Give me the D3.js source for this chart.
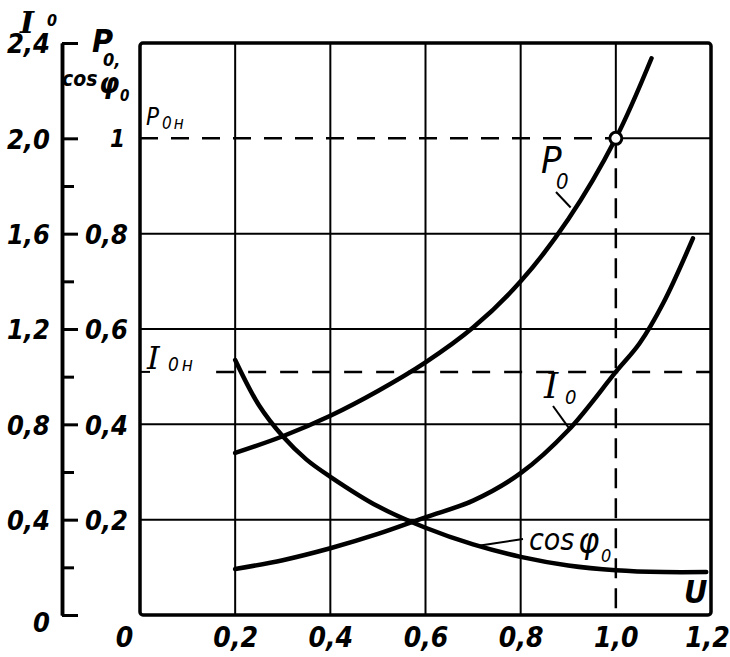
<!DOCTYPE html>
<html>
<head>
<meta charset="utf-8">
<script src="https://cdn.jsdelivr.net/npm/d3@7"></script>
<style>
body { margin: 0; background: #fff; }
svg text { font-family: "DejaVu Sans Condensed", "DejaVu Sans", sans-serif; font-style: italic; fill: #000; }
svg text.serif { font-family: "DejaVu Serif", "Liberation Serif", serif; }
</style>
</head>
<body>
<div id="chart"></div>
<script>
// axis ticks
const uTicks = [0, 0.2, 0.4, 0.6, 0.8, 1.0, 1.2];
const uTickLabels = ["0", "0,2", "0,4", "0,6", "0,8", "1,0", "1,2"];
const iTicks = [0, 0.4, 0.8, 1.2, 1.6, 2.0, 2.4];
const iTickLabels = ["0", "0,4", "0,8", "1,2", "1,6", "2,0", "2,4"];
const iMinorTicks = [0.2, 0.6, 1.0, 1.4, 1.8];
const pTicks = [0.2, 0.4, 0.6, 0.8, 1.0];
const pTickLabels = ["0,2", "0,4", "0,6", "0,8", "1"];

// curves (U in relative units)
const uP0 = [0.2, 0.3, 0.4, 0.5, 0.6, 0.7, 0.8, 0.9, 1.0, 1.075];
const p0 = [0.34, 0.375, 0.418, 0.47, 0.53, 0.603, 0.70, 0.83, 1.0, 1.168];
const uI0 = [0.2, 0.3, 0.4, 0.5, 0.6, 0.7, 0.8, 0.9, 1.0, 1.05, 1.1, 1.162];
const i0 = [0.193, 0.23, 0.28, 0.34, 0.41, 0.48, 0.595, 0.775, 1.02, 1.14, 1.31, 1.58];
const uCos = [0.2, 0.25, 0.3, 0.35, 0.4, 0.5, 0.6, 0.7, 0.8, 0.9, 1.0, 1.1, 1.19];
const cosPhi = [0.535, 0.44, 0.375, 0.326, 0.29, 0.228, 0.183, 0.148, 0.122, 0.104, 0.094, 0.09, 0.09];

// nominal point
const uNom = 1.0, p0Nom = 1.0, i0Nom = 1.02;

const width = 730, height = 657;

const svg = d3.select('#chart')
  .append('svg')
  .attr('width', width)
  .attr('height', height);

const x = d3.scaleLinear().domain([0, 1.2]).range([140, 711]);
const yI = d3.scaleLinear().domain([0, 2.4]).range([615, 43]);
const yP = d3.scaleLinear().domain([0, 1.2]).range([615, 43]);

// grid
const grid = svg.append('g').attr('stroke', '#000').attr('stroke-width', 2);
grid.selectAll('line.v')
  .data([0.2, 0.4, 0.6, 0.8])
  .enter().append('line')
  .attr('x1', d => x(d)).attr('x2', d => x(d))
  .attr('y1', yP(1.2)).attr('y2', yP(0));
grid.selectAll('line.h')
  .data([0.2, 0.4, 0.6, 0.8])
  .enter().append('line')
  .attr('x1', x(0)).attr('x2', x(1.2))
  .attr('y1', d => yP(d)).attr('y2', d => yP(d));

// nominal lines: solid beyond the point, dashed towards the axes
grid.append('line')
  .attr('x1', x(uNom)).attr('x2', x(1.2))
  .attr('y1', yP(p0Nom)).attr('y2', yP(p0Nom));
grid.append('line')
  .attr('x1', x(uNom)).attr('x2', x(uNom))
  .attr('y1', yP(1.2)).attr('y2', yP(p0Nom));
grid.append('line')
  .attr('x1', x(0)).attr('x2', x(uNom))
  .attr('y1', yP(p0Nom)).attr('y2', yP(p0Nom))
  .attr('stroke-width', 2.5)
  .attr('stroke-dasharray', '18,13');
grid.append('line')
  .attr('x1', x(uNom)).attr('x2', x(uNom))
  .attr('y1', yP(p0Nom)).attr('y2', yP(0))
  .attr('stroke-width', 2.5)
  .attr('stroke-dasharray', '20,10');
grid.append('line')
  .attr('x1', x(0.16)).attr('x2', x(1.2))
  .attr('y1', yI(i0Nom)).attr('y2', yI(i0Nom))
  .attr('stroke-width', 2.5)
  .attr('stroke-dasharray', '18,14');
grid.append('line')
  .attr('x1', x(0)).attr('x2', x(0) + 10)
  .attr('y1', yI(i0Nom)).attr('y2', yI(i0Nom));

// frame
svg.append('rect')
  .attr('x', x(0)).attr('y', yP(1.2))
  .attr('width', x(1.2) - x(0)).attr('height', yP(0) - yP(1.2))
  .attr('rx', 3)
  .attr('fill', 'none')
  .attr('stroke', '#000')
  .attr('stroke-width', 3.5);

// left I0 axis
const iAxis = svg.append('g')
  .attr('transform', 'translate(62,0)')
  .call(d3.axisLeft(yI)
    .tickValues(iTicks)
    .tickSizeInner(-16)
    .tickSizeOuter(0)
    .tickPadding(12)
    .tickFormat((d, i) => iTickLabels[i]));
iAxis.append('g').call(d3.axisLeft(yI)
  .tickValues(iMinorTicks)
  .tickSizeInner(-12)
  .tickSizeOuter(0)
  .tickFormat(''));
iAxis.selectAll('path.domain').attr('stroke-width', 3.5);
iAxis.selectAll('.tick line').attr('stroke-width', 3);
iAxis.selectAll('text').attr('font-size', 27).attr('dy', '0.36em').style('font-weight', 'bold');
iAxis.selectAll('text').filter((d) => d === 0).attr('dy', '0.6em');

// P0 / cos axis labels
const pAxis = svg.append('g')
  .attr('transform', `translate(${x(0)},0)`)
  .call(d3.axisLeft(yP)
    .tickValues(pTicks)
    .tickSize(0)
    .tickPadding(12)
    .tickFormat((d, i) => pTickLabels[i]));
pAxis.select('path.domain').remove();
pAxis.selectAll('text').attr('font-size', 27).attr('dy', '0.36em').style('font-weight', 'bold');
pAxis.selectAll('text').filter(d => d === 1.0).attr('font-size', 24).attr('dx', -3);

// U axis labels
const uAxis = svg.append('g')
  .attr('transform', `translate(0,${yP(0)})`)
  .call(d3.axisBottom(x)
    .tickValues(uTicks)
    .tickSize(0)
    .tickPadding(12)
    .tickFormat((d, i) => uTickLabels[i]));
uAxis.select('path.domain').remove();
uAxis.selectAll('text').attr('font-size', 28).style('font-weight', 'bold');
uAxis.selectAll('text').filter(d => d === 0).attr('dx', -16);
uAxis.selectAll('text').filter(d => d === 1.2).attr('dx', -4);

// curves
const line = (ys) => d3.line()
  .x(d => x(d[0]))
  .y(d => ys(d[1]))
  .curve(d3.curveCatmullRom.alpha(0.5));

const curves = [
  { u: uP0, v: p0, s: yP },
  { u: uI0, v: i0, s: yI },
  { u: uCos, v: cosPhi, s: yP }
];
svg.append('g').selectAll('path')
  .data(curves)
  .enter().append('path')
  .attr('d', c => line(c.s)(c.u.map((u, i) => [u, c.v[i]])))
  .attr('fill', 'none')
  .attr('stroke', '#000')
  .attr('stroke-width', 4.5)
  .attr('stroke-linecap', 'round');

// nominal point
svg.append('circle')
  .attr('cx', x(uNom)).attr('cy', yP(p0Nom))
  .attr('r', 6)
  .attr('fill', '#fff')
  .attr('stroke', '#000')
  .attr('stroke-width', 3);

// labels
function txt(px, py, s, size, weight, cls) {
  return svg.append('text')
    .attr('x', px).attr('y', py)
    .attr('font-size', size)
    .attr('class', cls || null)
    .style('font-weight', weight || 'bold')
    .text(s);
}

// axis titles
txt(20, 33, 'I', 30, 'bold', 'serif');
txt(47, 26, '0', 16);
txt(92, 52, 'P', 32);
txt(103, 66, '0,', 18);
txt(62, 86, 'cos', 21);
txt(99, 93, 'φ', 29);
txt(120, 101, '0', 15);

// nominal values
txt(146, 125, 'P', 24, 'normal');
txt(162, 129, '0н', 17, 'normal').attr('letter-spacing', 2);
txt(147, 369, 'I', 32, 'normal', 'serif');
txt(168, 371, '0н', 19, 'normal').attr('letter-spacing', 3);

// curve names
txt(541, 173, 'P', 38, 'normal');
txt(556, 189, '0', 22, 'normal');
txt(544, 398, 'I', 36, 'normal', 'serif');
txt(565, 404, '0', 20, 'normal');
txt(529, 550, 'cos', 30, 'normal');
txt(578, 553, 'φ', 36, 'normal');
txt(601, 562, '0', 18, 'normal');
txt(684, 603, 'U', 32);

// leaders
const leaders = svg.append('g').attr('stroke', '#000').attr('stroke-width', 2);
leaders.append('line')
  .attr('x1', 556).attr('y1', 192)
  .attr('x2', x(0.905)).attr('y2', yP(0.855));
leaders.append('line')
  .attr('x1', 553).attr('y1', 406)
  .attr('x2', x(0.903)).attr('y2', yI(0.78));
leaders.append('line')
  .attr('x1', 523).attr('y1', 539)
  .attr('x2', x(0.715)).attr('y2', yP(0.146));
</script>
</body>
</html>
